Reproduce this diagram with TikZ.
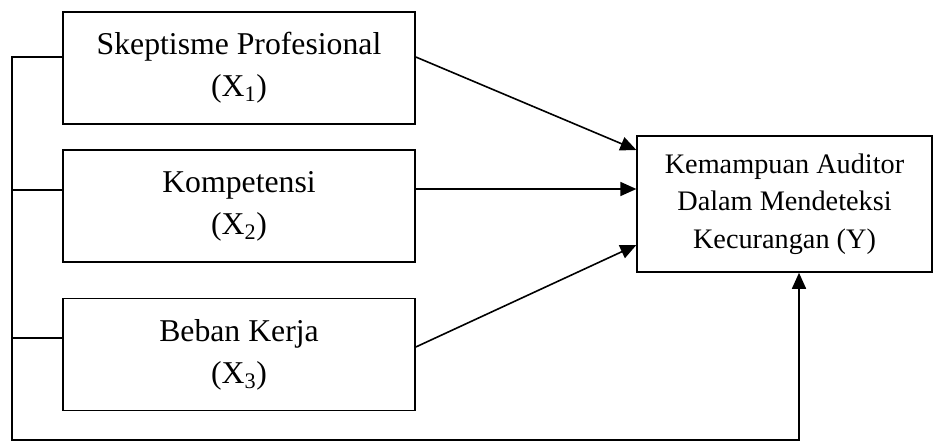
\documentclass[tikz,border=0pt]{standalone}
\usepackage{fontspec}
\setmainfont{Liberation Serif}
\usetikzlibrary{arrows.meta}
\begin{document}
\begin{tikzpicture}[x=0.75pt,y=-0.75pt,
  line width=1.2pt,
  xbox/.style={draw,inner sep=0pt,minimum width=264pt,minimum height=84pt,align=center,
    font=\fontsize{23.8pt}{31.5pt}\selectfont},
  ybox/.style={draw,inner sep=0pt,minimum width=221pt,minimum height=102pt,align=center,
    font=\fontsize{21.2pt}{28pt}\selectfont},
  arr/.style={-{Triangle[length=12pt,width=10.5pt]}}]
\useasboundingbox (0,0) rectangle (934,442);
\node[xbox] (x1) at (239,68) {Skeptisme Profesional\\(X\textsubscript{1})};
\node[xbox] (x2) at (239,206) {Kompetensi\\(X\textsubscript{2})};
\node[xbox] (x3) at (239,354.5) {Beban Kerja\\(X\textsubscript{3})};
\node[ybox] (y) at (784.5,204) {Kemampuan Auditor\\Dalam Mendeteksi\\Kecurangan (Y)};
\coordinate (l1) at (12,57);
\coordinate (l2) at (12,190);
\coordinate (l3) at (12,338);
\coordinate (lb) at (12,440);
\coordinate (rb) at (799,440);
\coordinate (s1) at (415,57);
\coordinate (s3) at (415,347);
\coordinate (t1) at (637,150);
\coordinate (t2) at (637,189);
\coordinate (t3) at (637,245);
\draw[arr] (x1.west |- l1) -- (l1) -- (lb) -- (rb) -- (rb |- y.south);
\draw (x2.west |- l2) -- (l2);
\draw (x3.west |- l3) -- (l3);
\draw[arr] (x1.east |- s1) -- (y.west |- t1);
\draw[arr] (x2.east |- t2) -- (y.west |- t2);
\draw[arr] (x3.east |- s3) -- (y.west |- t3);
\end{tikzpicture}
\end{document}
